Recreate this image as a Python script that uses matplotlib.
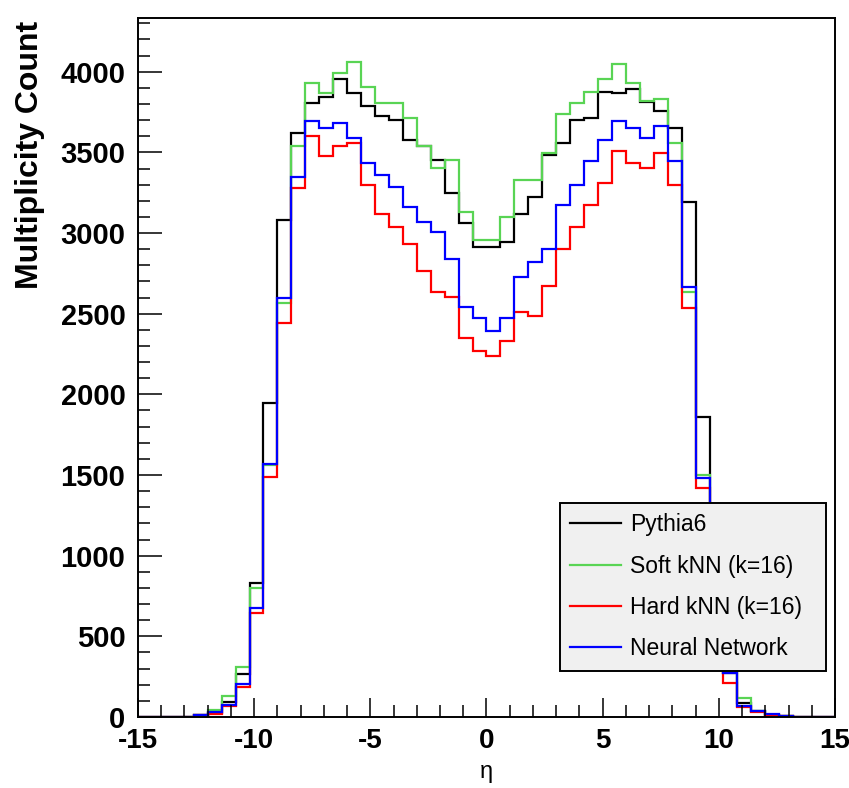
import numpy as np
import matplotlib
matplotlib.use("Agg")
import matplotlib.pyplot as plt
from matplotlib.ticker import MultipleLocator

plt.rcParams['font.family'] = ['Liberation Sans', 'DejaVu Sans']
plt.rcParams['axes.unicode_minus'] = False

# eta binning: 50 bins from -15 to 15
edges = np.linspace(-15, 15, 51)

pythia6 = [0, 0, 0, 0, 14, 25, 95, 267, 832, 1949,
           3081, 3618, 3804, 3846, 3953, 3866, 3790, 3726, 3699, 3577,
           3540, 3453, 3251, 3065, 2916, 2916, 2947, 3116, 3222, 3484,
           3556, 3701, 3711, 3877, 3866, 3891, 3815, 3757, 3650, 3191,
           1860, 800, 275, 85, 35, 15, 6, 0, 0, 0]
soft_knn = [0, 0, 0, 0, 15, 45, 130, 312, 800, 1560,
            2565, 3540, 3928, 3866, 3990, 4063, 3907, 3804, 3804, 3711,
            3540, 3402, 3453, 3129, 2957, 2957, 3098, 3329, 3329, 3499,
            3735, 3804, 3877, 3953, 4048, 3928, 3819, 3831, 3556, 2637,
            1500, 760, 285, 116, 40, 15, 6, 0, 0, 0]
hard_knn = [0, 0, 0, 0, 10, 20, 70, 184, 646, 1490,
            2441, 3278, 3602, 3478, 3540, 3561, 3298, 3118, 3038, 2932,
            2765, 2637, 2606, 2348, 2269, 2240, 2331, 2513, 2486, 2672,
            2899, 3036, 3174, 3313, 3511, 3437, 3406, 3499, 3298, 2533,
            1420, 620, 210, 60, 30, 12, 5, 0, 0, 0]
neural_net = [0, 0, 0, 0, 12, 33, 74, 205, 676, 1568,
              2596, 3346, 3697, 3650, 3685, 3588, 3433, 3360, 3288, 3164,
              3071, 3009, 2839, 2544, 2472, 2393, 2472, 2727, 2822, 2899,
              3174, 3298, 3449, 3577, 3697, 3650, 3588, 3664, 3449, 2668,
              1480, 650, 270, 70, 39, 19, 8, 0, 0, 0]

series = [
    (pythia6, 'black', 'Pythia6'),
    (soft_knn, '#59d454', 'Soft kNN (k=16)'),
    (hard_knn, '#ff0000', 'Hard kNN (k=16)'),
    (neural_net, '#0000ff', 'Neural Network'),
]

fig = plt.figure(figsize=(8.49, 7.88), dpi=100)
ax = fig.add_axes([138 / 849, 71 / 788, 697 / 849, 699 / 788])

for vals, col, lab in series:
    ax.stairs(vals, edges, color=col, lw=1.6, label=lab)

ax.set_xlim(-15, 15)
ax.set_ylim(0, 4333)

ax.xaxis.set_major_locator(MultipleLocator(5))
ax.xaxis.set_minor_locator(MultipleLocator(1))
ax.yaxis.set_major_locator(MultipleLocator(500))
ax.yaxis.set_minor_locator(MultipleLocator(100))

ax.tick_params(axis='both', which='both', direction='in', width=1.1,
               top=False, right=False)
ax.tick_params(axis='x', which='major', length=14, pad=8)
ax.tick_params(axis='x', which='minor', length=8.5)
ax.tick_params(axis='y', which='major', length=17, pad=9)
ax.tick_params(axis='y', which='minor', length=8.5)
for lbl in ax.get_yticklabels():
    lbl.set_fontsize(21)
    lbl.set_fontweight('bold')
for lbl in ax.get_xticklabels():
    lbl.set_fontsize(20)
    lbl.set_fontweight('bold')

for sp in ax.spines.values():
    sp.set_linewidth(1.4)

ax.set_xlabel('η', fontsize=17, labelpad=5)
fig.text(30 / 849, 1 - 155 / 788, 'Multiplicity Count', rotation=90,
         ha='center', va='center', fontsize=23, fontweight='bold')

x0 = (560 - 138) / 697
x1 = (826 - 138) / 697
y1 = (717 - 503) / 699
leg = ax.legend(loc='upper left', bbox_to_anchor=(x0, y1 - 0.3, x1 - x0, 0.3),
                mode='expand', fontsize=16.5, frameon=True, fancybox=False,
                framealpha=1, facecolor='#f0f0f0', edgecolor='black',
                handlelength=2.2, handletextpad=0.4, labelspacing=0.8,
                borderpad=0.45, borderaxespad=0)
leg.get_frame().set_linewidth(1.4)
for h in leg.get_lines():
    h.set_linewidth(1.6)

fig.savefig('out.png', dpi=100)
